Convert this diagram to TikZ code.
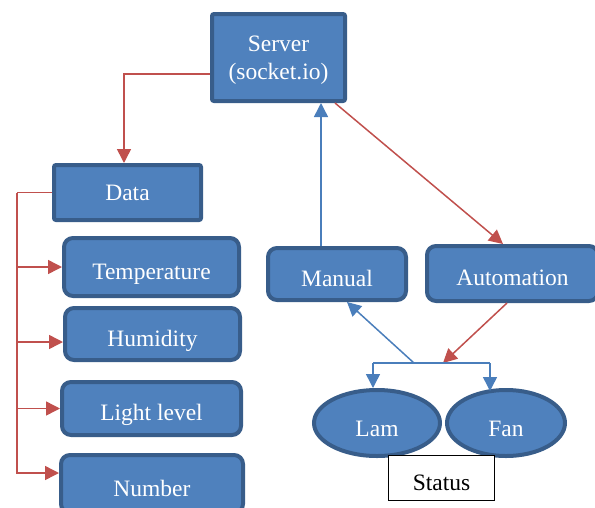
\documentclass[tikz,border=0pt]{standalone}
\usepackage{fontspec}
\setmainfont{Liberation Serif}
\usetikzlibrary{arrows.meta,shapes.geometric}
\definecolor{boxfill}{HTML}{4F81BD}
\definecolor{boxline}{HTML}{385D8A}
\definecolor{redline}{HTML}{C0504D}
\definecolor{blueline}{HTML}{4A7EBB}
\tikzset{
  sqbox/.style={draw=boxline, fill=boxfill, line width=4pt, rounded corners=2pt, text=white, inner sep=0pt, align=center, font=\fontsize{23.5}{28}\selectfont},
  rbox/.style={sqbox, rounded corners=9pt, text height=24pt, text depth=0pt},
  ebox/.style={draw=boxline, fill=boxfill, line width=4pt, ellipse, text=white, inner sep=0pt, text height=26pt, text depth=0pt, font=\fontsize{23.5}{28}\selectfont},
  statbox/.style={draw=black, fill=white, line width=1.5pt, inner sep=0pt, text height=24pt, text depth=0pt, font=\fontsize{23.5}{28}\selectfont},
  redarrow/.style={draw=redline, line width=1.5pt, -{Triangle[length=14pt,width=14pt]}},
  redplain/.style={draw=redline, line width=1.5pt},
  bluearrow/.style={draw=blueline, line width=1.5pt, -{Triangle[length=14pt,width=14pt]}},
  blueplain/.style={draw=blueline, line width=1.5pt},
}
\begin{document}
\begin{tikzpicture}[x=1pt,y=-1pt]
\useasboundingbox (0,0) rectangle (595,507);
\clip (0,0) rectangle (595,507);
% nodes
\node[sqbox, minimum width=133pt, minimum height=87pt, text depth=-8pt] (server) at (278.5,57.5) {Server\\(socket.io)};
\node[sqbox, minimum width=147pt, minimum height=55pt] (data) at (127.5,192.5) {Data};
\node[rbox, minimum width=175pt, minimum height=58pt] (temp) at (151.5,267) {Temperature};
\node[rbox, minimum width=175pt, minimum height=52pt] (hum) at (152.5,334) {Humidity};
\node[rbox, minimum width=179pt, minimum height=53pt] (light) at (151.5,408.5) {Light level};
\node[rbox, minimum width=182pt, minimum height=58pt] (num) at (152,484) {Number};
\node[rbox, minimum width=138pt, minimum height=52pt] (manual) at (337,274) {Manual};
\node[rbox, minimum width=171pt, minimum height=55pt] (auto) at (512.5,273.5) {Automation};
\node[ebox, minimum width=126pt, minimum height=66pt] (lam) at (377,423) {Lam};
\node[ebox, minimum width=118pt, minimum height=66pt] (fan) at (506,423) {Fan};
\node[statbox, minimum width=106pt, minimum height=45pt] (status) at (441.5,478) {Status};
% junction coordinates
\coordinate (j) at (414,363);
\coordinate (k) at (443,363);
\coordinate (bl) at (373,363);
\coordinate (br) at (490,363);
% connectors
\draw[redarrow] ([yshift=-16.5pt]server.west) -| ([xshift=-3.5pt]data.north);
\draw[redplain] (data.west) -- ++(-35,0) coordinate (dv);
\draw[redarrow] (dv) |- (temp.west);
\draw[redarrow] (dv) |- ([yshift=-8pt]hum.west);
\draw[redarrow] (dv) |- (light.west);
\draw[redarrow] (dv) |- ([yshift=11pt]num.west);
\draw[bluearrow] ([xshift=-16pt]manual.north) -- ([xshift=-16pt]manual.north |- server.south);
\draw[redarrow] ([xshift=56.5pt]server.south) -- ([xshift=-9.5pt]auto.north);
\draw[bluearrow] (j) -- ([xshift=10pt]manual.south);
\draw[redarrow] ([xshift=-5.5pt]auto.south) -- (k);
\draw[blueplain] (bl) -- (br);
\draw[bluearrow] (bl) -- (bl |- lam.north);
\draw[bluearrow] (br) -- ([yshift=-3pt]br |- fan.north);
\end{tikzpicture}
\end{document}
